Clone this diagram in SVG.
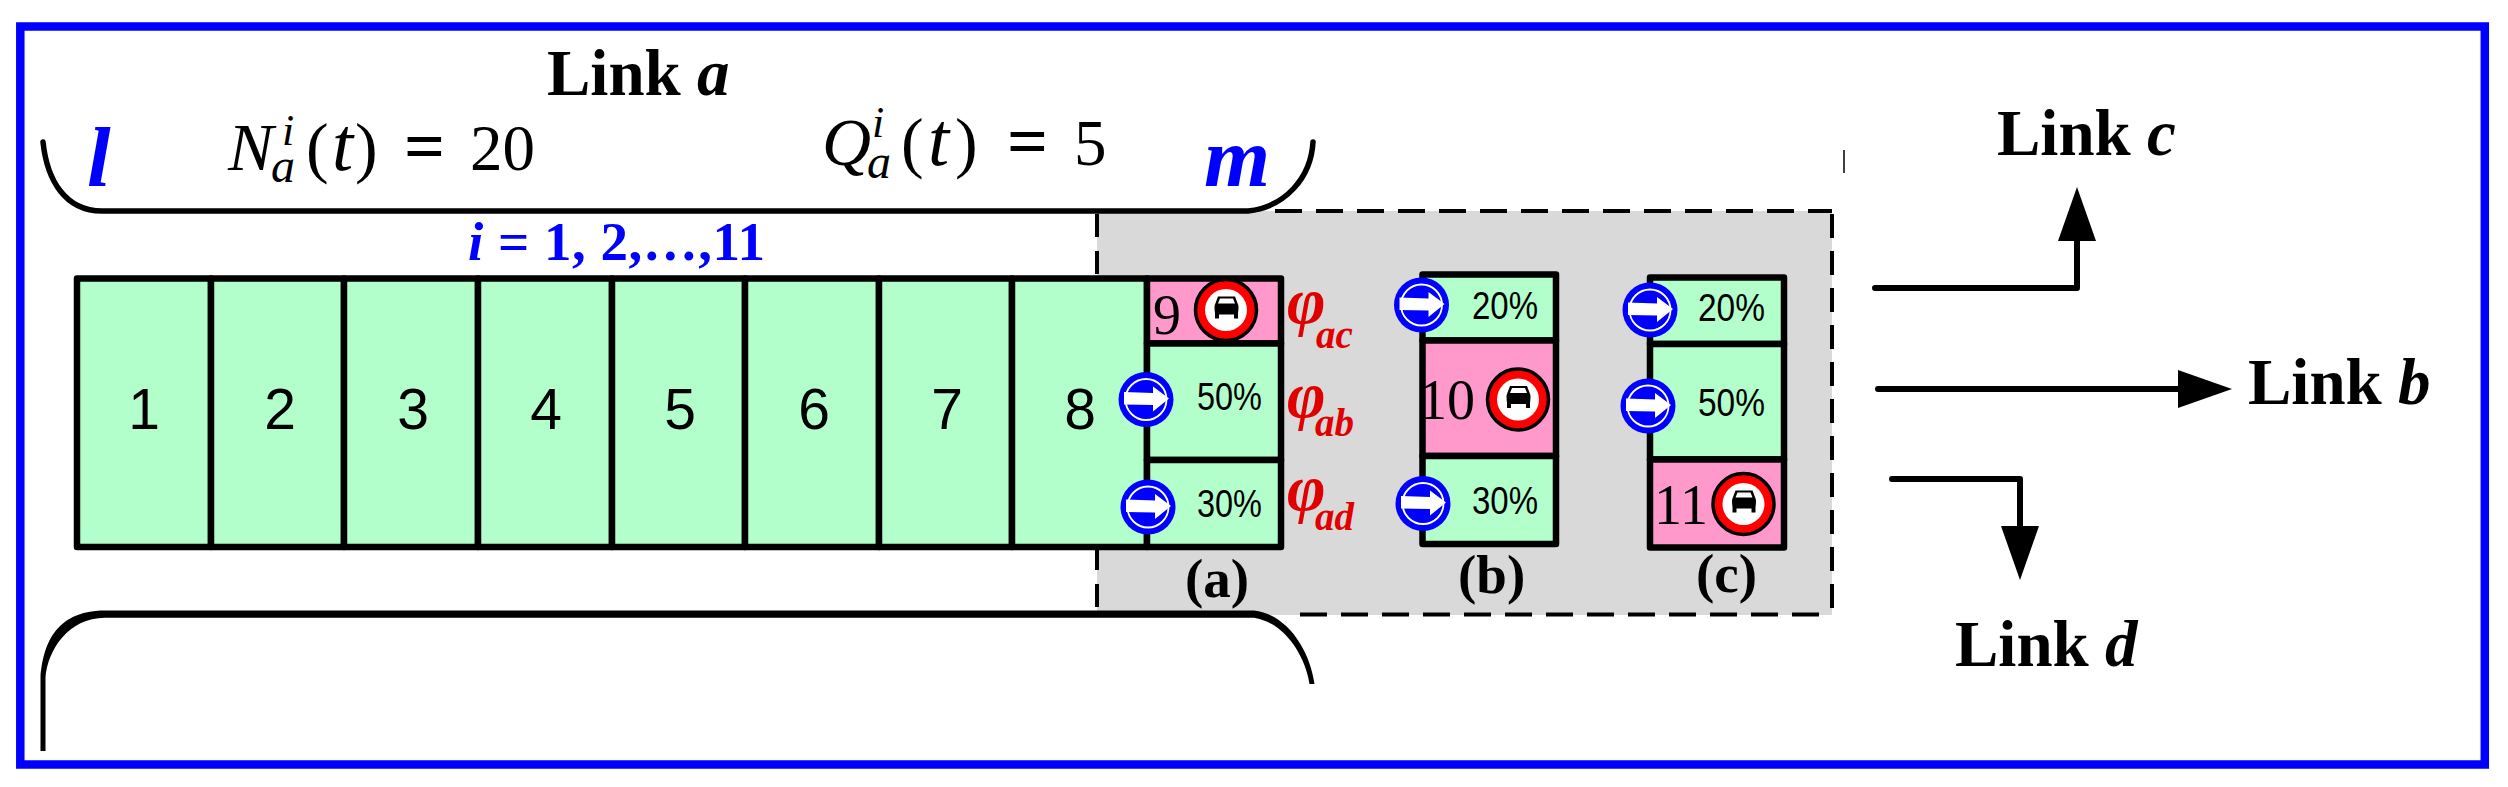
<svg xmlns="http://www.w3.org/2000/svg" width="2508" height="787" viewBox="0 0 2508 787">
<style>
.cell{fill:#b3ffcc;stroke:#000;stroke-width:6.5;stroke-linejoin:round}
.pink{fill:#ff99cc;stroke:#000;stroke-width:6.5;stroke-linejoin:round}
.num{font:57px "Liberation Sans",Arial,sans-serif;text-anchor:middle;fill:#000}
.tnum{font:56px "Liberation Serif","Times New Roman",serif;fill:#000}
.pct{font:38px "Liberation Sans",Arial,sans-serif;fill:#000}
.lnk{font:bold 65px "Liberation Serif","Times New Roman",serif;fill:#000}
.lnk tspan{font-style:italic}
.cap{font:bold 55px "Liberation Serif","Times New Roman",serif;fill:#000}
.blue{font:italic bold 85px "Liberation Serif","Times New Roman",serif;fill:#0000ff}
.idx{font:bold 55px "Liberation Serif","Times New Roman",serif;fill:#0000ff}
.phi{font:italic bold 66px "Liberation Serif","Times New Roman",serif;fill:#e00000}
.sub{font:italic bold 39px "Liberation Serif","Times New Roman",serif;fill:#e00000}
.f{font:65px "Liberation Serif","Times New Roman",serif;fill:#000}
.fN{font:italic 68px "Liberation Serif","Times New Roman",serif}
.ft{font:italic 76px "Liberation Serif","Times New Roman",serif}
.fp{font:68px "Liberation Serif","Times New Roman",serif}
.feq{font:bold 72px "Liberation Serif","Times New Roman",serif}
.fi{font:italic 44px "Liberation Serif","Times New Roman",serif}
.fa{font:italic 48px "Liberation Serif","Times New Roman",serif}
.dash{fill:none;stroke:#000;stroke-width:4}
.brace{fill:none;stroke:#000;stroke-width:5.5;stroke-linecap:round}
.arr{fill:none;stroke:#000;stroke-width:6;stroke-linecap:round;stroke-linejoin:round}
</style>
<defs>
<marker id="head" markerUnits="userSpaceOnUse" markerWidth="56" markerHeight="38" refX="1" refY="19" orient="auto">
<path d="M0 0L54 19L0 38Z" fill="#000"/>
</marker>
<g id="go">
<circle r="27.5" fill="#0000ff"/>
<circle r="20.5" fill="#0000ff" stroke="#fff" stroke-width="1.8"/>
<path d="M-22-7.5L7-6.5V-13L23-1L7 12V5.5L-22 5Z" fill="#fff"/>
</g>
<g id="nocar">
<circle r="30.5" fill="#ff0000" stroke="#000" stroke-width="3.5"/>
<circle r="21" fill="#fff"/>
<path d="M-8-12H9L12-4Q13-3 12 5V10H8V6H-7V10H-11V5Q-12-3-11-4Z" fill="#000" transform="translate(0 -1.5)"/>
<path d="M-6-10H7L9-5H-8Z" fill="#fff" transform="translate(0 -1.5)"/>
</g>
</defs>
<rect width="2508" height="787" fill="#fff"/>
<rect id="frame" x="20.3" y="26.5" width="2464.5" height="738" fill="none" stroke="#0000ff" stroke-width="8.5"/>

<g id="scope">
<rect x="1097" y="211" width="735" height="404" fill="#d9d9d9"/>
<path class="dash" stroke-dasharray="27 14" d="M1275 211H1832"/>
<path class="dash" stroke-dasharray="27 14" d="M1300 614.5H1832"/>
<path class="dash" stroke-dasharray="23 14" d="M1097 214V614"/>
<path class="dash" stroke-dasharray="24 13" d="M1832 214V614"/>
<path d="M1844 150V173" stroke="#000" stroke-width="1.5"/>
</g>

<g id="braces">
<path class="brace" d="M43 142C47 180 65 211 102 211H1248C1285 207 1311 178 1313 142"/>
<path fill="#000" d="M40.5 751V677C43 648 53 610.5 105 610.5H1254C1287 614 1310 650 1314.5 684H1309.5C1305 654 1283 622 1254 617.7H105C68 618 48 650 45.5 677V751Z"/>
</g>

<g id="labels">
<text class="lnk" x="547" y="95">Link <tspan>a</tspan></text>
<text class="lnk" x="1997" y="155">Link <tspan>c</tspan></text>
<text class="lnk" x="2248" y="404">Link <tspan>b</tspan></text>
<text class="lnk" x="1955" y="666">Link <tspan>d</tspan></text>
<text class="blue" x="87" y="186">l</text>
<text class="blue" x="1204" y="186">m</text>
<text class="idx" x="468" y="260" textLength="297" lengthAdjust="spacing"><tspan font-style="italic">i</tspan> = 1, 2,…,11</text>
<text id="formula-n" class="f" y="170"><tspan class="fN" x="228" y="170">N</tspan><tspan class="fa" x="271" y="182">a</tspan><tspan class="fi" x="282" y="145">i</tspan><tspan class="fp" x="306" y="170">(</tspan><tspan class="ft" x="332" y="170">t</tspan><tspan class="fp" x="355" y="170">)</tspan><tspan class="feq" x="404" y="170">=</tspan><tspan x="470" y="170">20</tspan></text>
<text id="formula-q" class="f" y="165"><tspan class="fN" x="822" y="165">Q</tspan><tspan class="fa" x="867" y="178">a</tspan><tspan class="fi" x="872" y="137">i</tspan><tspan class="fp" x="901" y="165">(</tspan><tspan class="ft" x="928" y="165">t</tspan><tspan class="fp" x="955" y="165">)</tspan><tspan class="feq" x="1007" y="165">=</tspan><tspan x="1074" y="165">5</tspan></text>
</g>

<g id="cell-1"><rect class="cell" x="77" y="278.5" width="134" height="268.5"/><text class="num" x="144" y="429">1</text></g>
<g id="cell-2"><rect class="cell" x="211" y="278.5" width="133" height="268.5"/><text class="num" x="280" y="429">2</text></g>
<g id="cell-3"><rect class="cell" x="344" y="278.5" width="134" height="268.5"/><text class="num" x="413" y="429">3</text></g>
<g id="cell-4"><rect class="cell" x="478" y="278.5" width="134" height="268.5"/><text class="num" x="546" y="429">4</text></g>
<g id="cell-5"><rect class="cell" x="612" y="278.5" width="133" height="268.5"/><text class="num" x="680" y="429">5</text></g>
<g id="cell-6"><rect class="cell" x="745" y="278.5" width="134" height="268.5"/><text class="num" x="814" y="429">6</text></g>
<g id="cell-7"><rect class="cell" x="879" y="278.5" width="133" height="268.5"/><text class="num" x="947" y="429">7</text></g>
<g id="cell-8"><rect class="cell" x="1012" y="278.5" width="135" height="268.5"/><text class="num" x="1080" y="429">8</text></g>

<g id="case-a">
<rect class="pink" x="1147" y="278.5" width="134" height="65"/>
<rect class="cell" x="1147" y="343.5" width="134" height="116.5"/>
<rect class="cell" x="1147" y="460" width="134" height="87"/>
<text class="tnum" x="1153" y="334">9</text>
<use href="#nocar" x="1226" y="310"/>
<use href="#go" x="1146" y="399.5"/>
<use href="#go" x="1148" y="507"/>
<text class="pct" x="1197" y="410" textLength="65" lengthAdjust="spacingAndGlyphs">50%</text>
<text class="pct" x="1197" y="517" textLength="65" lengthAdjust="spacingAndGlyphs">30%</text>
<text class="phi" x="1287" y="323">φ<tspan class="sub" x="1316" y="348">ac</tspan></text>
<text class="phi" x="1287" y="417">φ<tspan class="sub" x="1315" y="436">ab</tspan></text>
<text class="phi" x="1287" y="510">φ<tspan class="sub" x="1315" y="530">ad</tspan></text>
<text class="cap" x="1185" y="597">(a)</text>
</g>

<g id="case-b">
<rect class="cell" x="1422.5" y="274.5" width="133.5" height="66"/>
<rect class="pink" x="1422.5" y="340.5" width="133.5" height="115.5"/>
<rect class="cell" x="1422.5" y="456" width="133.5" height="88"/>
<text class="tnum" x="1419" y="419">10</text>
<use href="#nocar" x="1518" y="399.5"/>
<use href="#go" x="1421.5" y="305"/>
<use href="#go" x="1423" y="503.5"/>
<text class="pct" x="1472" y="319" textLength="66" lengthAdjust="spacingAndGlyphs">20%</text>
<text class="pct" x="1472" y="514" textLength="66" lengthAdjust="spacingAndGlyphs">30%</text>
<text class="cap" x="1458" y="593">(b)</text>
</g>

<g id="case-c">
<rect class="cell" x="1650" y="277.5" width="134" height="66.5"/>
<rect class="cell" x="1650" y="344" width="134" height="115.5"/>
<rect class="pink" x="1650" y="459.5" width="134" height="88"/>
<text class="tnum" x="1654" y="524">11</text>
<use href="#nocar" x="1743.5" y="504"/>
<use href="#go" x="1650" y="310"/>
<use href="#go" x="1648" y="406"/>
<text class="pct" x="1698" y="321" textLength="67" lengthAdjust="spacingAndGlyphs">20%</text>
<text class="pct" x="1698" y="416" textLength="67" lengthAdjust="spacingAndGlyphs">50%</text>
<text class="cap" x="1696" y="592">(c)</text>
</g>

<g id="connectors">
<path class="arr" d="M1875 288H2077V240" marker-end="url(#head)"/>
<path class="arr" d="M1878 389H2179" marker-end="url(#head)"/>
<path class="arr" d="M1892 479H2020V527" marker-end="url(#head)"/>
</g>
</svg>
